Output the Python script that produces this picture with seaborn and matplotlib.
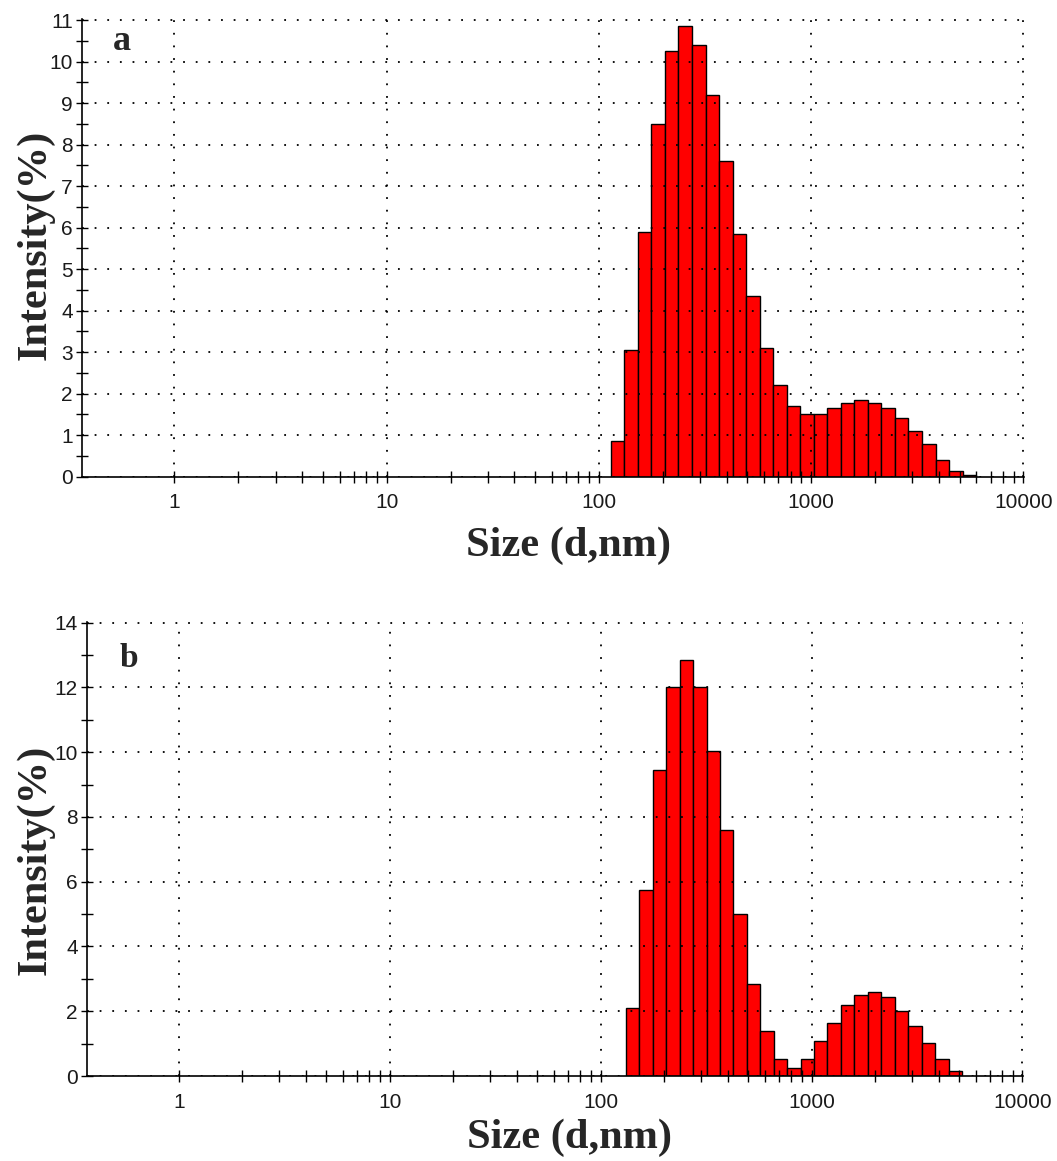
import matplotlib
matplotlib.use("Agg")
import matplotlib.pyplot as plt
import matplotlib.ticker as mticker
import seaborn as sns
import numpy as np

# Zetasizer size classes (d, nm) used by the bars of each panel
sizes_a = [122.4, 141.8, 164.2, 190.1, 220.2, 255.0, 295.3, 342.0, 396.1,
           458.7, 531.2, 615.1, 712.4, 825.0, 955.4, 1106, 1281, 1484,
           1718, 1990, 2305, 2669, 3091, 3580, 4145, 4801, 5560]
intensity_a = [0.85, 3.05, 5.9, 8.5, 10.25, 10.85, 10.4, 9.2, 7.6,
               5.85, 4.35, 3.1, 2.2, 1.7, 1.5, 1.5, 1.65, 1.77,
               1.85, 1.78, 1.65, 1.42, 1.1, 0.78, 0.4, 0.14, 0.03]

sizes_b = [141.8, 164.2, 190.1, 220.2, 255.0, 295.3, 342.0, 396.1, 458.7,
           531.2, 615.1, 712.4, 825.0, 955.4, 1106, 1281, 1484, 1718,
           1990, 2305, 2669, 3091, 3580, 4145, 4801]
intensity_b = [2.1, 5.75, 9.45, 12.0, 12.85, 12.0, 10.05, 7.6, 5.0,
               2.85, 1.38, 0.52, 0.26, 0.52, 1.07, 1.65, 2.2, 2.5,
               2.6, 2.45, 2.0, 1.53, 1.02, 0.52, 0.15]

x_ticks = [1, 10, 100, 1000, 10000]
x_ticklabels = ["1", "10", "100", "1000", "10000"]
# minor ticks only from 2 upwards (none below 1, as in the instrument plot)
x_minor = [d * m for d in [1, 10, 100, 1000] for m in range(2, 10)]

sns.set_style("white")
plt.rcParams["font.family"] = ["Liberation Sans", "DejaVu Sans"]


def log_edges(centers):
    # bin edges (log10 space) halfway between neighbouring size classes
    lc = np.log10(centers)
    step = np.mean(np.diff(lc))
    mids = (lc[:-1] + lc[1:]) / 2
    return np.concatenate([[lc[0] - step / 2], mids, [lc[-1] + step / 2]]).tolist()


def draw_panel(ax, sizes, intensity, ymax, ystep, letter, letter_pos, letter_size,
               ylabel_pos, xlabel_pos):
    sns.histplot(x=np.array(sizes), weights=np.array(intensity), bins=log_edges(sizes),
                 log_scale=True, stat="count", color="#ff0000", edgecolor="black",
                 linewidth=1.0, alpha=1, ax=ax)
    ax.set_xlim(0.367, 10060)
    ax.set_ylim(0, ymax * 1.002)

    ax.xaxis.set_major_locator(mticker.FixedLocator(x_ticks))
    ax.xaxis.set_major_formatter(mticker.FixedFormatter(x_ticklabels))
    ax.xaxis.set_minor_locator(mticker.FixedLocator(x_minor))
    ax.xaxis.set_minor_formatter(mticker.NullFormatter())
    ax.yaxis.set_major_locator(mticker.MultipleLocator(ystep))
    ax.yaxis.set_minor_locator(mticker.MultipleLocator(ystep / 2))

    # seaborn "white" style hides the ticks, switch them back on
    ax.tick_params(axis="both", which="both", direction="inout", color="black",
                   width=1.0, bottom=True, left=True, labelsize=15,
                   labelcolor="#1a1a1a")
    ax.tick_params(axis="x", which="both", length=8, pad=8)
    ax.tick_params(axis="y", which="both", length=8, pad=2.5)

    ax.grid(True, which="major", color="black", linestyle=(0, (1, 6)), linewidth=1.3)
    ax.set_axisbelow(False)
    for side in ["top", "right"]:
        ax.spines[side].set_visible(False)
    for side in ["left", "bottom"]:
        ax.spines[side].set_color("black")
        ax.spines[side].set_linewidth(1.2)

    label_font = dict(family="Liberation Serif", weight="bold", size=30.5)
    ax.set_ylabel("Intensity(%)", **label_font)
    ax.set_xlabel("Size (d,nm)", **label_font)
    ax.yaxis.set_label_coords(*ylabel_pos)
    ax.xaxis.set_label_coords(*xlabel_pos)

    ax.text(letter_pos[0], letter_pos[1], letter, transform=ax.transAxes,
            family="Liberation Serif", weight="bold", size=letter_size,
            ha="left", va="baseline")


fig = plt.figure(figsize=(10.57, 11.61), dpi=100)
W, H = 1057, 1161
ax_a = fig.add_axes([82 / W, 1 - 476.7 / H, (1024 - 82) / W, (476.7 - 19.3) / H])
ax_b = fig.add_axes([87 / W, 1 - 1076 / H, (1023 - 87) / W, (1076 - 621.7) / H])

draw_panel(ax_a, sizes_a, intensity_a, 11, 1, "a", (0.033, 0.933), 26,
           (-0.029, 0.507), (0.516, -0.108))
draw_panel(ax_b, sizes_b, intensity_b, 14, 2, "b", (0.035, 0.900), 24,
           (-0.035, 0.475), (0.515, -0.093))

fig.savefig("out.png", dpi=100, facecolor="white")
